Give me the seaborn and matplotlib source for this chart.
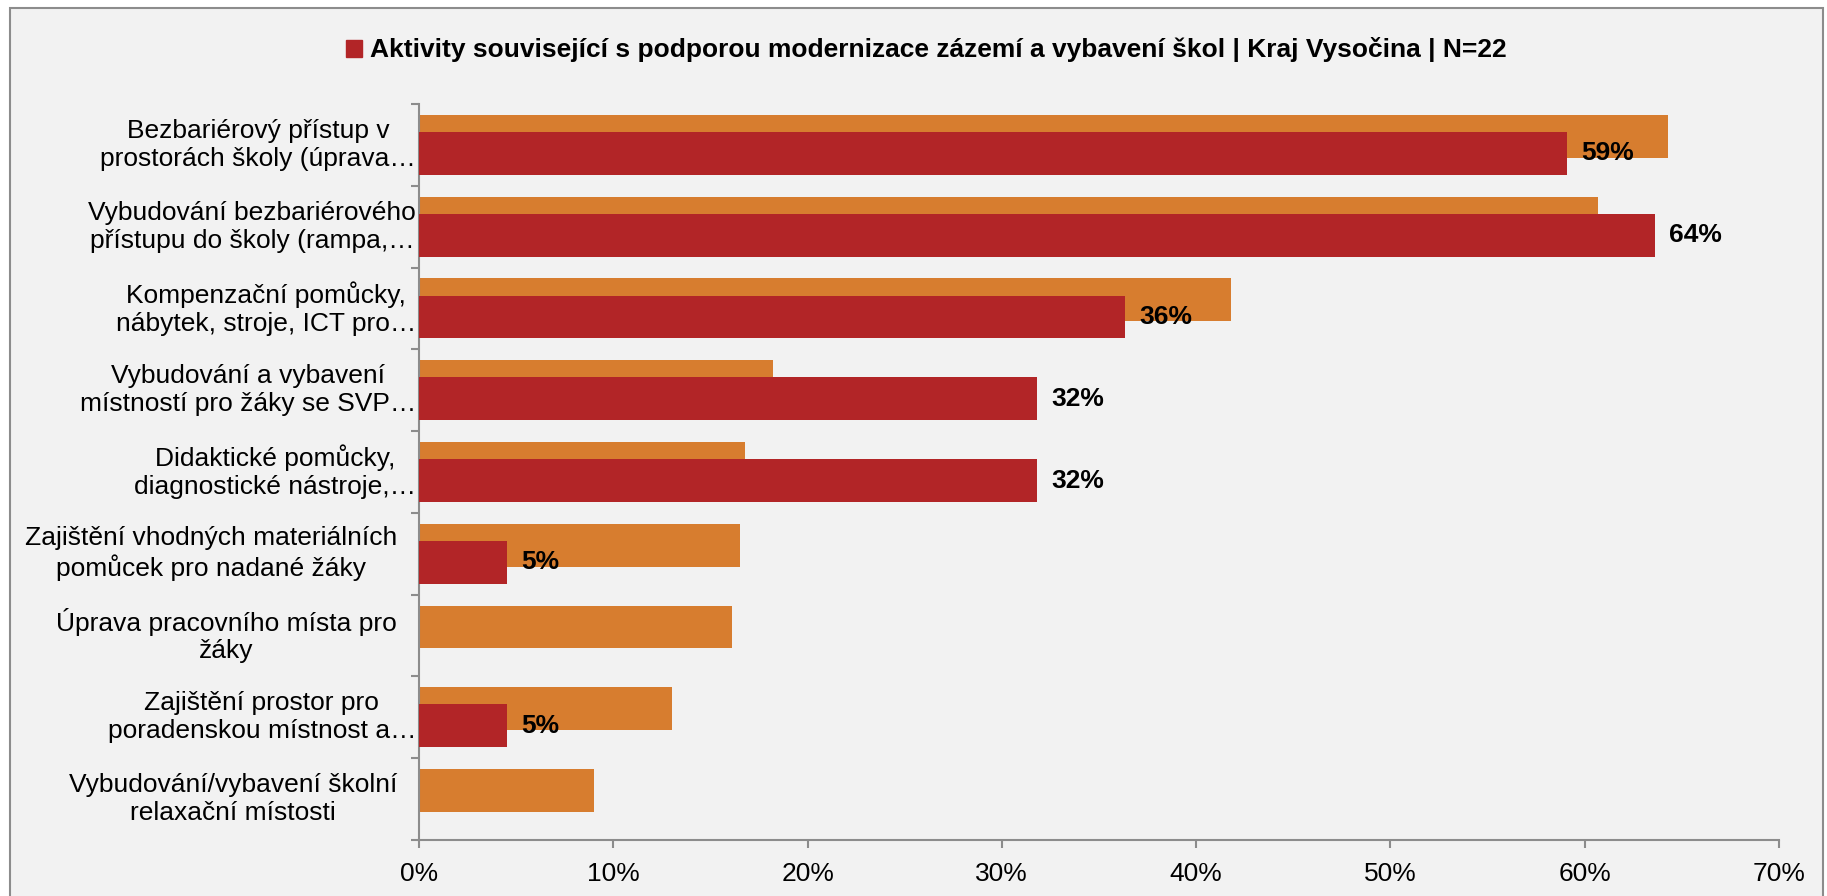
import matplotlib
matplotlib.use("Agg")
import matplotlib.pyplot as plt
from matplotlib.patches import Rectangle, Patch
from matplotlib.ticker import FuncFormatter, FixedLocator
from matplotlib.transforms import ScaledTranslation, blended_transform_factory
import seaborn as sns
import numpy as np

categories = [
    "Bezbariérový přístup v\nprostorách školy (úprava…",
    "Vybudování bezbariérového\npřístupu do školy (rampa,…",
    "Kompenzační pomůcky,\nnábytek, stroje, ICT pro…",
    "Vybudování a vybavení\nmístností pro žáky se SVP…",
    "Didaktické pomůcky,\ndiagnostické nástroje,…",
    "Zajištění vhodných materiálních\npomůcek pro nadané žáky",
    "Úprava pracovního místa pro\nžáky",
    "Zajištění prostor pro\nporadenskou místnost a…",
    "Vybudování/vybavení školní\nrelaxační místosti",
]
# orange series (no legend entry in the source chart)
other_values = [0.643, 0.607, 0.418, 0.182, 0.168, 0.165, 0.161, 0.130, 0.090]
# red series: Kraj Vysočina, N=22
region_values = [13 / 22, 14 / 22, 8 / 22, 7 / 22, 7 / 22, 1 / 22, 0.0, 1 / 22, 0.0]
series_label = "Aktivity související s podporou modernizace zázemí a vybavení škol | Kraj Vysočina | N=22"
x_ticks = [0, 0.1, 0.2, 0.3, 0.4, 0.5, 0.6, 0.7]

RED = "#b22527"
ORANGE = "#d77d2f"
BG = "#f2f2f2"
AXIS = "#8c8c8c"
FS = 19


def main():
    sns.set_theme(style="white")
    plt.rcParams["font.family"] = ["Liberation Sans", "DejaVu Sans"]
    plt.rcParams["text.color"] = "black"

    fig = plt.figure(figsize=(18.27, 8.96), dpi=100)
    fig.patch.set_facecolor("white")
    fig.patches.append(Rectangle((10 / 1827, -0.05), (1823 - 10) / 1827, 1.05 - 8 / 896,
                                 transform=fig.transFigure, facecolor=BG,
                                 edgecolor=AXIS, linewidth=1.5, zorder=-10))
    ax = fig.add_axes([419 / 1827, 1 - 840 / 896, (1779 - 419) / 1827, (840 - 104) / 896])
    ax.set_facecolor(BG)

    h = 0.525
    off = 0.105
    sns.barplot(x=other_values, y=categories, orient="y", color=ORANGE,
                width=h, saturation=1, linewidth=0, ax=ax)
    n_first = len(ax.patches)
    for p in ax.patches:
        p.set_y(p.get_y() - off)
    sns.barplot(x=region_values, y=categories, orient="y", color=RED,
                width=h, saturation=1, linewidth=0, ax=ax)
    red_patches = ax.patches[n_first:]
    for p in red_patches:
        p.set_y(p.get_y() + off)
        p.set_zorder(3)

    for p, v in zip(red_patches, region_values):
        if v > 0:
            ax.text(v + 0.0072, p.get_y() + p.get_height() / 2, f"{round(v * 100):d}%",
                    ha="left", va="center", fontsize=FS, fontweight="bold",
                    color="black", zorder=5)

    ax.set_xlim(0, 0.7)
    ax.set_ylim(len(categories) - 0.5, -0.5)
    ax.xaxis.set_major_locator(FixedLocator(x_ticks))
    ax.xaxis.set_major_formatter(FuncFormatter(lambda v, _: f"{v * 100:.0f}%"))
    ax.set_xlabel("")
    ax.set_ylabel("")

    for s in ["top", "right"]:
        ax.spines[s].set_visible(False)
    for s in ["left", "bottom"]:
        ax.spines[s].set_color(AXIS)
        ax.spines[s].set_linewidth(1.5)

    ax.tick_params(axis="x", which="major", direction="out", length=6, width=1.5,
                   color=AXIS, labelsize=FS, labelcolor="black", pad=10, bottom=True)
    ax.tick_params(axis="y", which="major", length=0, labelleft=False)
    ax.yaxis.set_minor_locator(FixedLocator(np.arange(-0.5, len(categories), 1.0)))
    ax.tick_params(axis="y", which="minor", direction="out", length=6, width=1.5,
                   color=AXIS, left=True)

    # category labels: truncated ones (ending with …) run up to the axis
    trans = blended_transform_factory(ax.transAxes, ax.transData)
    for i, lab in enumerate(categories):
        shift = -3 if lab.endswith("…") else -22
        t = trans + ScaledTranslation(shift / 100, 0, fig.dpi_scale_trans)
        ax.text(0, i, lab, transform=t, ha="right", va="center",
                multialignment="center", linespacing=1.2, fontsize=FS, color="black")

    fig.legend(handles=[Patch(facecolor=RED, edgecolor=RED)], labels=[series_label],
               loc="center", bbox_to_anchor=(0.507, 1 - 50 / 896), frameon=False,
               prop={"weight": "bold", "size": FS}, handlelength=0.6, handleheight=0.6,
               handletextpad=0.3, borderaxespad=0, labelcolor="black")

    fig.savefig("out.png", dpi=100, facecolor="white")


if __name__ == "__main__":
    main()
